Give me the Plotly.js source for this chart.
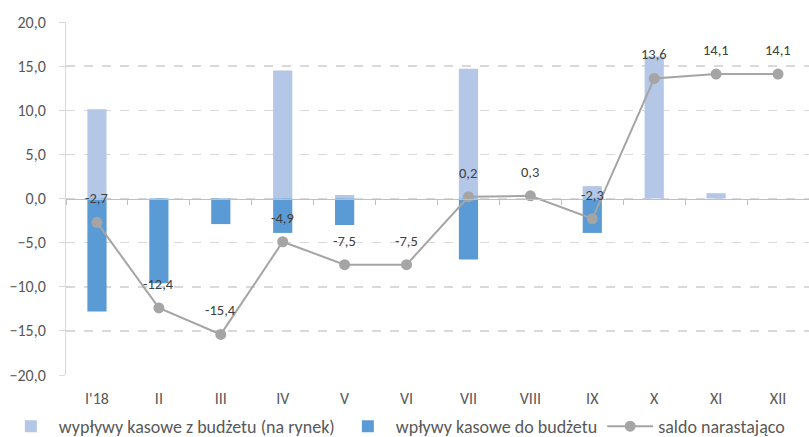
<!DOCTYPE html>
<html><head><meta charset="utf-8">
<script src="https://cdn.plot.ly/plotly-3.0.1.min.js"></script>
<style>body{margin:0;background:#fff}#c{width:809px;height:437px}</style>
</head><body><div id="c"></div>
<script>
const months = ["I'18","II","III","IV","V","VI","VII","VIII","IX","X","XI","XII"];
const outflows = [10.1, 0, 0, 14.5, 0.4, 0, 14.7, 0, 1.4, 16.1, 0.6, 0];
const inflows = [-12.8, -9.6, -2.9, -3.9, -3.0, 0, -6.9, 0, -3.9, 0, 0, 0];
const saldo = [-2.7, -12.4, -15.4, -4.9, -7.5, -7.5, 0.2, 0.3, -2.3, 13.6, 14.1, 14.1];
const saldoLabels = saldo.map(v => v.toFixed(1).replace('.', ','));
const yTicks = [-20,-15,-10,-5,0,5,10,15,20];

const font = "Carlito, Lato, 'Liberation Sans', sans-serif";
const traces = [
  {type:'bar', x:months, y:outflows, name:'wypływy kasowe z budżetu (na rynek)',
   marker:{color:'#b4c7e7'}, width:0.31, hoverinfo:'skip'},
  {type:'bar', x:months, y:inflows, name:'wpływy kasowe do budżetu',
   marker:{color:'#5b9bd5'}, width:0.31, hoverinfo:'skip'},
  {type:'scatter', mode:'lines+markers', x:months, y:saldo, name:'saldo narastająco',
   line:{color:'#a5a5a5', width:2}, marker:{color:'#a5a5a5', size:11}, cliponaxis:false},
  {type:'scatter', x:months, y:saldo, xaxis:'x2', mode:'none', showlegend:false, hoverinfo:'skip'}
];
const annotations = months.map((m, i) => ({
  x: m, y: saldo[i], xref:'x', yref:'y', text: saldoLabels[i], showarrow:false,
  yshift: 24, font:{family:font, size:14.5, color:'#404040'}
}));
const layout = {
  width:809, height:437, paper_bgcolor:'#fff', plot_bgcolor:'#fff',
  margin:{l:66, r:0, t:22, b:62, autoexpand:false},
  barmode:'relative', bargap:0.69,
  font:{family:font, size:14, color:'#595959'},
  annotations: annotations,
  xaxis:{type:'category', range:[-0.5, 11.5], showgrid:false, zeroline:false, showline:false, ticks:'', automargin:false,
         ticklabelstandoff:12, tickfont:{size:16, color:'#595959'}},
  xaxis2:{type:'category', range:[-0.5, 11.5], overlaying:'x', anchor:'free', position:0.5, side:'bottom', automargin:false,
          showline:true, linecolor:'#bfbfbf', linewidth:1, ticks:'outside', ticklen:5,
          tickcolor:'#bfbfbf', tickson:'boundaries', showticklabels:false, showgrid:false, zeroline:false},
  yaxis:{range:[-20,20], tickvals:yTicks, tickformat:'.1f', showgrid:true, griddash:'dash', automargin:false,
         gridcolor:'#d9d9d9', gridwidth:1.5, zeroline:false, showline:true, linecolor:'#d9d9d9',
         ticks:'outside', ticklen:6, tickcolor:'#d9d9d9',
         ticklabelstandoff:10, tickfont:{size:16, color:'#595959'}},
  separators:', ',
  legend:{orientation:'h', x:-0.085, xanchor:'left', y:-0.0935, yanchor:'top', itemwidth:46,
          bgcolor:'rgba(0,0,0,0)', font:{size:18, color:'#595959'}, traceorder:'normal'},
  showlegend:true
};
Plotly.newPlot('c', traces, layout, {displayModeBar:false, staticPlot:true});
</script></body></html>
